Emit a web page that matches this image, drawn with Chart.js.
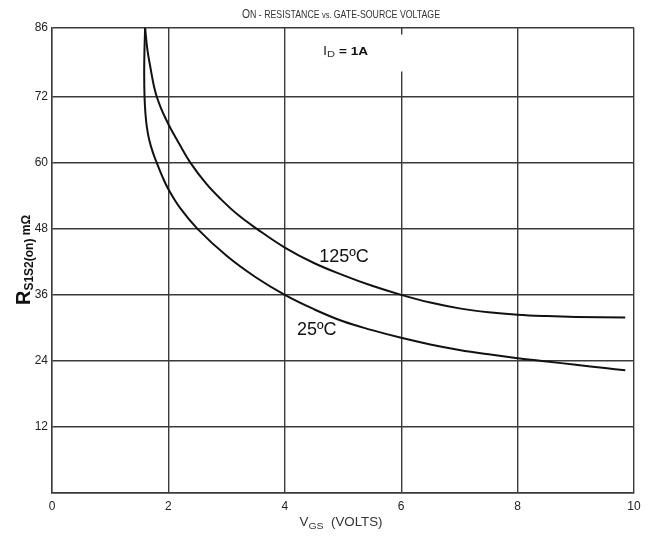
<!DOCTYPE html>
<html>
<head>
<meta charset="utf-8">
<script src="https://cdn.jsdelivr.net/npm/chart.js@4/dist/chart.umd.min.js"></script>
<style>
  html, body { margin: 0; padding: 0; background: #fff; }
  #wrap { width: 656px; height: 539px; position: relative; }
</style>
</head>
<body>
<div id="wrap"><canvas id="chart"></canvas></div>
<script>
// values (VGS in volts, R in mOhm)
const vgs125 = [1.60, 1.64, 1.70, 1.75, 1.80, 1.87, 1.95, 2.05, 2.2, 2.38, 2.65, 2.9, 3.2, 3.52, 4.0, 4.5, 5.0, 5.5, 6.0, 6.5, 7.0, 7.5, 8.0, 8.5, 9.0, 9.85]
const r125 = [84.5, 80.5, 76.8, 74.0, 72.0, 70.0, 68.1, 66.0, 63.2, 60.0, 56.2, 53.4, 50.5, 48.0, 44.6, 41.8, 39.6, 37.65, 36.0, 34.6, 33.55, 32.85, 32.4, 32.15, 32.0, 31.9]

const vgs25 = [1.60, 1.588, 1.584, 1.59, 1.605, 1.63, 1.67, 1.73, 1.80, 1.90, 2.0, 2.2, 2.5, 3.0, 3.5, 4.0, 4.5, 5.0, 5.5, 6.0, 6.5, 7.0, 7.5, 8.0, 8.5, 9.0, 9.5, 9.85]
const r25 = [84.5, 80.0, 76.0, 72.0, 69.0, 66.5, 64.2, 62.0, 60.0, 57.4, 55.2, 51.8, 48.0, 43.1, 39.2, 36.0, 33.4, 31.2, 29.6, 28.2, 27.0, 26.0, 25.2, 24.5, 23.9, 23.3, 22.7, 22.3]

const xTicks = [0, 2, 4, 6, 8, 10]
const yTickValues = [0, 12, 24, 36, 48, 60, 72, 84.5]
const yTickLabels = ['', '12', '24', '36', '48', '60', '72', '86']

const curveLabels = [
  { text: '125ºC', x: 4.59, y: 42.9 },
  { text: '25ºC', x: 4.21, y: 29.6 },
]

const toPoints = (xs, ys) => xs.map((v, i) => ({ x: v, y: ys[i] }))

const FONT = '"Liberation Sans", Arial, sans-serif'

// draw a run of text pieces (for subscripts), optionally squeezed to a width
function drawRuns(ctx, runs, x, y, align = 'center', fitWidth = null) {
  ctx.save()
  let total = 0
  runs.forEach(r => {
    ctx.font = r.font
    r.w = ctx.measureText(r.t).width
    total += r.w
  })
  const sx = fitWidth ? fitWidth / total : 1
  ctx.translate(x, y)
  ctx.scale(sx, 1)
  let cx = align === 'center' ? -total / 2 : align === 'right' ? -total : 0
  ctx.textBaseline = 'alphabetic'
  ctx.textAlign = 'left'
  runs.forEach(r => {
    ctx.font = r.font
    ctx.fillStyle = r.color || '#222'
    ctx.fillText(r.t, cx, r.dy || 0)
    cx += r.w
  })
  ctx.restore()
}

const extras = {
  id: 'extras',
  beforeDatasetsDraw(chart) {
    const { ctx, scales: { x, y } } = chart
    // white box behind the I_D note (breaks the 6 V gridline)
    const x0 = x.getPixelForValue(4.4)
    const x1 = x.getPixelForValue(6.1)
    const y0 = y.getPixelForValue(83.3)
    const y1 = y.getPixelForValue(76.6)
    ctx.save()
    ctx.fillStyle = '#fff'
    ctx.fillRect(x0, y0, x1 - x0, y1 - y0)
    ctx.restore()
  },
  afterDraw(chart) {
    const { ctx, scales: { x, y } } = chart

    // title with small caps look
    drawRuns(ctx, [
      { t: 'O', font: `13px ${FONT}`, color: '#333' },
      { t: 'N - RESISTANCE ', font: `11px ${FONT}`, color: '#333' },
      { t: 'vs. ', font: `9.5px ${FONT}`, color: '#333' },
      { t: 'GATE-SOURCE VOLTAGE', font: `11px ${FONT}`, color: '#333' },
    ], 341, 18, 'center', 198)

    // I_D = 1A note
    drawRuns(ctx, [
      { t: 'I', font: `12px ${FONT}`, color: '#333' },
      { t: 'D', font: `9px ${FONT}`, color: '#333', dy: 2 },
      { t: ' = 1A', font: `bold 11px ${FONT}`, color: '#111' },
    ], 323, 55, 'left', 45)

    // curve labels
    ctx.save()
    ctx.font = `18px ${FONT}`
    ctx.fillStyle = '#111'
    ctx.textBaseline = 'middle'
    curveLabels.forEach(l => {
      ctx.fillText(l.text, x.getPixelForValue(l.x), y.getPixelForValue(l.y))
    })
    ctx.restore()

    // x axis title
    drawRuns(ctx, [
      { t: 'V', font: `12px ${FONT}`, color: '#333' },
      { t: 'GS', font: `9.5px ${FONT}`, color: '#333', dy: 3 },
      { t: '  (VOLTS)', font: `12px ${FONT}`, color: '#333' },
    ], 341, 526, 'center', 83)

    // y axis title, rotated
    ctx.save()
    ctx.translate(30, 260)
    ctx.rotate(-Math.PI / 2)
    drawRuns(ctx, [
      { t: 'R', font: `bold 20px ${FONT}`, color: '#111' },
      { t: 'S1S2(on)', font: `bold 12px ${FONT}`, color: '#111', dy: 3 },
      { t: ' mΩ', font: `bold 12px ${FONT}`, color: '#111' },
    ], 0, 0, 'center')
    ctx.restore()
  },
}

const lineStyle = {
  showLine: true,
  borderColor: '#111',
  borderWidth: 2,
  pointRadius: 0,
  tension: 0.4,
  fill: false,
}

new Chart(document.getElementById('chart'), {
  type: 'scatter',
  data: {
    datasets: [
      { label: '125ºC', data: toPoints(vgs125, r125), ...lineStyle },
      { label: '25ºC', data: toPoints(vgs25, r25), ...lineStyle },
    ],
  },
  options: {
    responsive: true,
    maintainAspectRatio: false,
    animation: false,
    layout: { padding: { top: 28, right: 22, left: 0, bottom: 0 } },
    plugins: {
      legend: { display: false },
      tooltip: { enabled: false },
      title: { display: false },
    },
    scales: {
      x: {
        type: 'linear',
        min: 0,
        max: 10,
        afterBuildTicks: axis => { axis.ticks = xTicks.map(v => ({ value: v })) },
        afterFit: axis => { axis.height = 46 },
        grid: { color: '#3a3a3a', lineWidth: 1.4, drawTicks: false },
        border: { color: '#3a3a3a', width: 1.4 },
        ticks: {
          padding: 6,
          color: '#222',
          font: { family: FONT, size: 12 },
          callback: v => String(v),
        },
      },
      y: {
        type: 'linear',
        min: 0,
        max: 84.5,
        afterBuildTicks: axis => { axis.ticks = yTickValues.map(v => ({ value: v })) },
        afterFit: axis => { axis.width = 52 },
        grid: { color: '#3a3a3a', lineWidth: 1.4, drawTicks: false },
        border: { color: '#3a3a3a', width: 1.4 },
        ticks: {
          padding: 4,
          color: '#222',
          font: { family: FONT, size: 12 },
          callback: (v, i) => yTickLabels[i],
        },
      },
    },
  },
  plugins: [extras],
})
</script>
</body>
</html>
